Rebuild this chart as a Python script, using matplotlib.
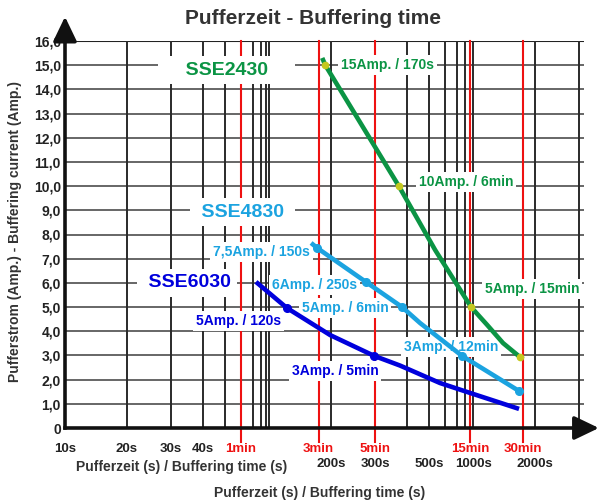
import numpy as np
import matplotlib
matplotlib.use("Agg")
import matplotlib.pyplot as plt

plt.rcParams["font.family"] = ["Liberation Sans", "DejaVu Sans"]
plt.rcParams["font.weight"] = "bold"

# the x scale of the original is a hand drawn "log" grid, mantissa -> fraction of a decade
MANT = [1, 2, 3, 4, 5, 6, 7, 8, 9, 10]
FRAC = [0, 0.303, 0.52, 0.677, 0.784, 0.863, 0.922, 0.961, 0.985, 1.0]

# curves: time in s, current in A
sse2430_t = [186, 191, 374, 538, 933, 1228, 1485, 1760, 1810]
sse2430_a = [15.3, 15.0, 10.0, 7.36, 5.0, 4.26, 3.51, 2.93, 2.85]
sse2430_pt_t = [191, 374, 933, 1760]
sse2430_pt_a = [15.0, 10.0, 5.0, 2.93]

sse4830_t = [168, 178, 279, 384, 459, 762, 1743]
sse4830_a = [7.65, 7.44, 6.04, 5.0, 4.34, 2.98, 1.53]
sse4830_pt_t = [178, 279, 384, 762, 1743]
sse4830_pt_a = [7.44, 6.04, 5.0, 2.98, 1.53]

sse6030_t = [73.6, 129, 199, 298, 378, 568, 900, 1743]
sse6030_a = [6.04, 4.96, 3.84, 2.98, 2.58, 1.86, 1.45, 0.79]
sse6030_pt_t = [129, 298]
sse6030_pt_a = [4.96, 2.98]

grid_x = [20, 30, 40, 50, 60, 70, 80, 90, 100, 200, 300, 400, 500, 600, 700,
          800, 900, 1000, 2000, 3000]
red_x = [60, 180, 300, 900, 1800]
tick_x = [10, 20, 30, 40, 60, 180, 300, 900, 1800]
tick_lab = ["10s", "20s", "30s", "40s", "1min", "3min", "5min", "15min", "30min"]
tick_red = [False, False, False, False, True, True, True, True, True]
row2_x = [200, 300, 500, 1000, 2000]
row2_lab = ["200s", "300s", "500s", "1000s", "2000s"]
y_ticks = list(range(0, 17))
y_lab = ["0"] + ["{},0".format(v) for v in range(1, 17)]

GREEN = "#0b9444"
LBLUE = "#1ba3e0"
BLUE = "#0000dc"
RED = "#ee1111"


def fwd(x):
    x = np.asarray(x, dtype=float)
    x = np.clip(x, 1e-6, None)
    d = np.floor(np.log10(x))
    m = x / 10 ** d
    return d + np.interp(m, MANT, FRAC)


def inv(y):
    y = np.asarray(y, dtype=float)
    d = np.floor(y)
    return np.interp(y - d, FRAC, MANT) * 10 ** d


fig = plt.figure(figsize=(6.03, 5.01), dpi=100)
ax = fig.add_axes([65 / 603, 73 / 501, 519 / 603, 387 / 501])
ax.set_xscale("function", functions=(fwd, inv))
ax.set_xlim(10, 3150)
ax.set_ylim(0, 16)

# grid
for v in y_ticks[1:-1]:
    ax.axhline(v, color="#5a5a5a", lw=1.3, zorder=1)
ax.axhline(16, color="#222222", lw=1.5, zorder=1)
for v in grid_x:
    ax.axvline(v, color="#2a2a2a", lw=1.4, zorder=1)
for v in red_x:
    ax.axvline(v, ymin=-0.036, ymax=1, color=RED, lw=1.5, zorder=2, clip_on=False)

for s in ["top", "right"]:
    ax.spines[s].set_visible(False)
for s in ["left", "bottom"]:
    ax.spines[s].set_linewidth(2.6)
    ax.spines[s].set_color("#111111")
    ax.spines[s].set_zorder(5)

arrow = dict(arrowstyle="-|>,head_length=0.5,head_width=0.24",
             mutation_scale=30, lw=2.6, color="#111111")
ax.annotate("", xy=(0, 1.07), xytext=(0, 0.99), xycoords="axes fraction",
            arrowprops=arrow, annotation_clip=False)
ax.annotate("", xy=(1.034, 0), xytext=(0.99, 0), xycoords="axes fraction",
            arrowprops=arrow, annotation_clip=False)

ax.set_yticks(y_ticks)
ax.set_yticklabels(y_lab, fontsize=10, fontweight="bold", color="#222222")
ax.set_xticks(tick_x)
ax.set_xticklabels(tick_lab, fontsize=9.5, fontweight="bold")
ax.xaxis.set_minor_locator(matplotlib.ticker.NullLocator())
for lab, r in zip(ax.get_xticklabels(), tick_red):
    lab.set_color(RED if r else "#222222")
ax.tick_params(axis="x", length=0, pad=10.5)
ax.tick_params(axis="y", length=0, pad=3)
for x, t in zip(row2_x, row2_lab):
    ax.text(x, -0.092, t, transform=ax.get_xaxis_transform(), ha="center",
            va="center", fontsize=9.5, fontweight="bold", color="#222222")

# curves
ax.plot(sse2430_t, sse2430_a, color=GREEN, lw=3.3, zorder=6, solid_capstyle="butt",
        solid_joinstyle="round")
ax.plot(sse2430_pt_t, sse2430_pt_a, "o", color="#c4c81e", ms=4.5, zorder=7)
ax.plot(sse4830_t, sse4830_a, color=LBLUE, lw=3.3, zorder=6, solid_capstyle="butt",
        solid_joinstyle="round")
ax.plot(sse4830_pt_t, sse4830_pt_a, "o", color=LBLUE, ms=5.5, zorder=7)
ax.plot(sse6030_t, sse6030_a, color=BLUE, lw=3.3, zorder=6, solid_capstyle="butt",
        solid_joinstyle="round")
ax.plot(sse6030_pt_t, sse6030_pt_a, "o", color=BLUE, ms=5.5, zorder=7)

box = dict(boxstyle="square,pad=0.3", fc="white", ec="none")
big = dict(fontsize=14, fontweight="bold", ha="center", va="center", zorder=4, bbox=box)
ax.text(51, 14.8, "    SSE2430    ", color=GREEN, **big)
ax.text(61, 8.93, " SSE4830 ", color=LBLUE, **big)
ax.text(35, 6.0, " SSE6030", color=BLUE, **big)

sbox = dict(boxstyle="square,pad=0.2", fc="white", ec="none")
small = dict(fontsize=10, fontweight="bold", ha="left", va="center", zorder=4, bbox=sbox)
ax.text(223, 15.0, "15Amp. / 170s", color=GREEN, **small)
ax.text(454, 10.17, "10Amp. / 6min", color=GREEN, **small)
ax.text(1195, 5.75, "5Amp. / 15min", color=GREEN, **small)
ax.text(44.5, 7.27, "7,5Amp. / 150s", color=LBLUE, **small)
ax.text(105, 5.91, "6Amp. / 250s", color=LBLUE, **small)
ax.text(153, 4.96, "5Amp. / 6min", color=LBLUE, **small)
ax.text(390, 3.35, "3Amp. / 12min", color=LBLUE, **small)
ax.text(37.8, 4.42, "5Amp. / 120s", color=BLUE, **small)
ax.text(137, 2.36, "3Amp. / 5min", color=BLUE, **small)

fig.text(313 / 603, 1 - 18 / 501, "Pufferzeit - Buffering time", ha="center",
         va="center", fontsize=15, fontweight="bold", color="#333333")
fig.text(182 / 603, 1 - 467 / 501, "Pufferzeit (s) / Buffering time (s)", ha="center",
         va="center", fontsize=10, fontweight="bold", color="#333333")
fig.text(320 / 603, 1 - 493 / 501, "Pufferzeit (s) / Buffering time (s)", ha="center",
         va="center", fontsize=10, fontweight="bold", color="#333333")
fig.text(15 / 603, 1 - 231 / 501, "Pufferstrom (Amp.) - Buffering current (Amp.)",
         ha="center", va="center", rotation=90, fontsize=10, fontweight="bold",
         color="#333333")

fig.savefig("out.png", dpi=100)
